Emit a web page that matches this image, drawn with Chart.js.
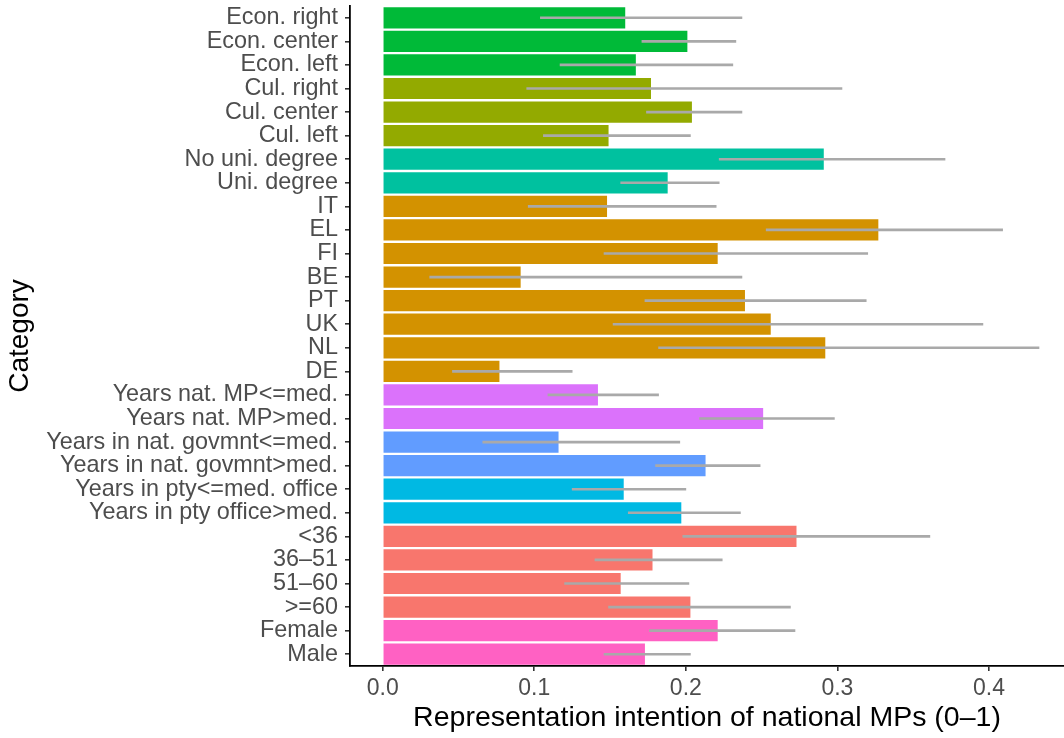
<!DOCTYPE html>
<html>
<head>
<meta charset="utf-8">
<title>Representation intention of national MPs</title>
<script src="https://cdn.jsdelivr.net/npm/chart.js@4/dist/chart.umd.min.js"></script>
<style>
    html, body { margin: 0; padding: 0; background: #fff; }
    #wrap { width: 1064px; height: 738px; }
</style>
</head>
<body>
<div id="wrap"><canvas id="myChart" width="1064" height="738"></canvas></div>
<script>
// data, top to bottom
const categories = ['Econ. right', 'Econ. center', 'Econ. left', 'Cul. right', 'Cul. center', 'Cul. left',
        'No uni. degree', 'Uni. degree', 'IT', 'EL', 'FI', 'BE', 'PT', 'UK', 'NL', 'DE',
        'Years nat. MP<=med.', 'Years nat. MP>med.', 'Years in nat. govmnt<=med.', 'Years in nat. govmnt>med.',
        'Years in pty<=med. office', 'Years in pty office>med.', '<36', '36–51', '51–60', '>=60', 'Female', 'Male'],
    groups = ['econ', 'econ', 'econ', 'cul', 'cul', 'cul', 'uni', 'uni',
        'country', 'country', 'country', 'country', 'country', 'country', 'country', 'country',
        'mp', 'mp', 'govt', 'govt', 'pty', 'pty', 'age', 'age', 'age', 'age', 'gender', 'gender'],
    means = [0.160, 0.201, 0.167, 0.177, 0.204, 0.149, 0.291, 0.188, 0.148, 0.327, 0.221, 0.091, 0.239, 0.256,
        0.292, 0.077, 0.142, 0.251, 0.116, 0.213, 0.159, 0.197, 0.273, 0.178, 0.157, 0.203, 0.221, 0.173],
    lower = [0.104, 0.171, 0.117, 0.095, 0.174, 0.106, 0.222, 0.157, 0.096, 0.253, 0.146, 0.031, 0.173, 0.152,
        0.182, 0.046, 0.109, 0.209, 0.066, 0.180, 0.125, 0.162, 0.198, 0.140, 0.120, 0.149, 0.176, 0.146],
    upper = [0.237, 0.233, 0.231, 0.303, 0.237, 0.203, 0.371, 0.222, 0.220, 0.409, 0.320, 0.237, 0.319, 0.396,
        0.433, 0.125, 0.182, 0.298, 0.196, 0.249, 0.200, 0.236, 0.361, 0.224, 0.202, 0.269, 0.272, 0.203],
    xTicks = [0, 0.1, 0.2, 0.3, 0.4];

// ggplot hue colours per group
const palette = {
    econ: '#00BA38', cul: '#93AA00', uni: '#00C19F', country: '#D39200',
    mp: '#DB72FB', govt: '#619CFF', pty: '#00B9E3', age: '#F8766D', gender: '#FF61C3'
};

const errors = lower.map((lo, i) => [lo, upper[i]]);
const font = 'Liberation Sans, Arial, Helvetica, sans-serif';

const ctx = document.getElementById('myChart'),
    myChart = new Chart(ctx, {
        type: 'bar',
        data: {
            labels: categories,
            datasets: [{
                label: 'interval',
                data: errors,
                backgroundColor: '#A9A9A9',
                barThickness: 2,
                grouped: false,
                order: 0
            }, {
                label: 'mean',
                data: means,
                backgroundColor: groups.map(g => palette[g]),
                categoryPercentage: 0.9,
                barPercentage: 1,
                grouped: false,
                order: 1
            }]
        },
        options: {
            indexAxis: 'y',
            responsive: false,
            animation: false,
            layout: { padding: { top: 6, left: 0, right: 0, bottom: 0 } },
            plugins: {
                legend: { display: false },
                tooltip: { enabled: false }
            },
            scales: {
                x: {
                    type: 'linear',
                    min: -0.0216,
                    max: 0.4495,
                    afterBuildTicks: (scale) => { scale.ticks = xTicks.map(v => ({ value: v })); },
                    afterFit: (scale) => { scale.height = 72; },
                    border: { display: true, color: '#000', width: 1.8 },
                    grid: { drawOnChartArea: false, drawTicks: true, tickLength: 5, color: '#333', lineWidth: 1.6 },
                    ticks: {
                        color: '#4D4D4D',
                        padding: 4,
                        font: { family: font, size: 23 },
                        callback: (v) => Number(v).toFixed(1)
                    },
                    title: {
                        display: true,
                        text: 'Representation intention of national MPs (0–1)',
                        color: '#000',
                        font: { family: font, size: 28.5 },
                        padding: { top: 0, bottom: 3 }
                    }
                },
                y: {
                    type: 'category',
                    offset: true,
                    afterFit: (scale) => {
                        scale.width = 350;
                        scale.paddingTop = 0;
                        scale.paddingBottom = 0;
                    },
                    border: { display: true, color: '#000', width: 1.8 },
                    grid: { offset: false, drawOnChartArea: false, drawTicks: true, tickLength: 5, color: '#333', lineWidth: 1.6 },
                    ticks: {
                        color: '#4D4D4D',
                        padding: 7,
                        autoSkip: false,
                        font: { family: font, size: 23.4 }
                    },
                    title: {
                        display: true,
                        text: 'Category',
                        color: '#000',
                        font: { family: font, size: 28 },
                        padding: { top: 3, bottom: 0 }
                    }
                }
            }
        }
    });
</script>
</body>
</html>
